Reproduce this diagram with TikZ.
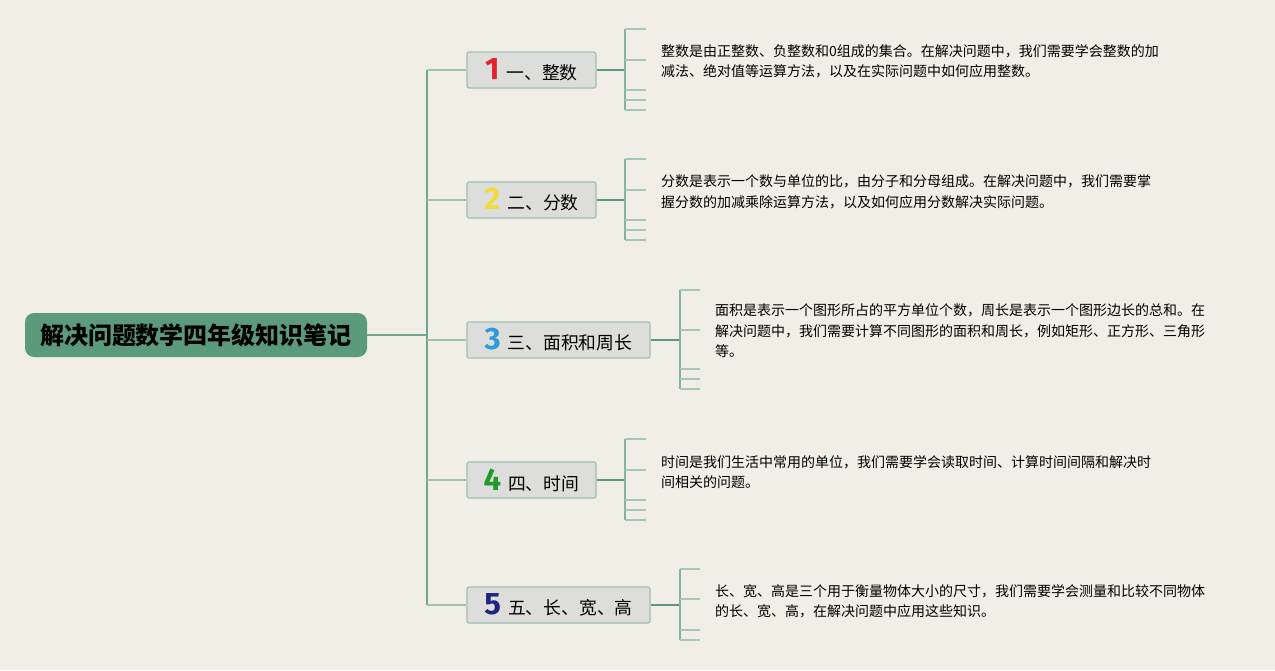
\documentclass[tikz,border=0pt]{standalone}
\usepackage{fontspec}
\setmainfont{Noto Sans CJK SC}
\newfontfamily\numfont{Fira Sans}
\usetikzlibrary{positioning}

\definecolor{bgcol}{HTML}{F1EEE5}
\definecolor{rootcol}{HTML}{5B9B7B}
\definecolor{trunkcol}{HTML}{6FA58B}
\definecolor{twigcol}{HTML}{9DC3AF}
\definecolor{stemcol}{HTML}{5E977F}
\definecolor{brkcol}{HTML}{86B29D}
\definecolor{tickcol}{HTML}{A6C7B6}
\definecolor{boxfill}{HTML}{DDDEDB}
\definecolor{boxline}{HTML}{9FC1B0}
\definecolor{numA}{HTML}{E3212F}
\definecolor{numB}{HTML}{F4DB3C}
\definecolor{numC}{HTML}{2F9BDB}
\definecolor{numD}{HTML}{1F9B2B}
\definecolor{numE}{HTML}{1C2880}

\newcommand{\knum}[2]{{\numfont\bfseries\fontsize{31}{31}\selectfont\color{#1}#2}\hspace{7pt}}

\tikzset{
  rootbox/.style={fill=rootcol, rounded corners=9pt, minimum width=342pt, minimum height=44pt,
    inner sep=0pt, font=\bfseries\fontsize{24}{24}\selectfont},
  topic/.style={draw=boxline, line width=1.2pt, fill=boxfill, rounded corners=2pt,
    minimum height=36pt, inner sep=0pt, font=\fontsize{17.8}{17.8}\selectfont},
  note/.style={anchor=west, align=left, inner sep=0pt, font=\fontsize{14}{20.5}\selectfont},
  twig/.style={draw=twigcol, line width=1.2pt},
  stem/.style={draw=stemcol, line width=2pt},
  brk/.style={draw=brkcol, line width=1.4pt},
  tick/.style={draw=tickcol, line width=1.2pt}
}

\begin{document}
\begin{tikzpicture}[x=1pt,y=-1pt]
\fill[bgcol] (0,0) rectangle (1275,670);
\useasboundingbox (0,0) rectangle (1275,670);

% root and topics
\node (root) [rootbox] at (196,335) {解决问题数学四年级知识笔记};
\node (k1) [topic, minimum width=129pt] at (531.5,70) {\knum{numA}{1}一、整数};
\node (k2) [topic, minimum width=129pt] at (531.5,200) {\knum{numB}{2}二、分数};
\node (k3) [topic, minimum width=183pt] at (558.5,340) {\knum{numC}{3}三、面积和周长};
\node (k4) [topic, minimum width=129pt] at (531.5,480) {\knum{numD}{4}四、时间};
\node (k5) [topic, minimum width=183pt] at (558.5,605) {\knum{numE}{5}五、长、宽、高};

% notes
\node (d1) [note] at (661,61.5) {整数是由正整数、负整数和0组成的集合。在解决问题中，我们需要学会整数的加\\减法、绝对值等运算方法，以及在实际问题中如何应用整数。};
\node (d2) [note] at (661,192) {分数是表示一个数与单位的比，由分子和分母组成。在解决问题中，我们需要掌\\握分数的加减乘除运算方法，以及如何应用分数解决实际问题。};
\node (d3) [note] at (715,331) {面积是表示一个图形所占的平方单位个数，周长是表示一个图形边长的总和。在\\解决问题中，我们需要计算不同图形的面积和周长，例如矩形、正方形、三角形\\等。};
\node (d4) [note] at (661,472) {时间是我们生活中常用的单位，我们需要学会读取时间、计算时间间隔和解决时\\间相关的问题。};
\node (d5) [note] at (715,601.5) {长、宽、高是三个用于衡量物体大小的尺寸，我们需要学会测量和比较不同物体\\的长、宽、高，在解决问题中应用这些知识。};

% trunk
\coordinate (tr) at (427,335);
\draw [stem, line width=1.6pt, draw=trunkcol] (root.east) -- (tr);
\draw [stem, line width=1.6pt, draw=trunkcol] (tr |- k1.west) -- (tr |- k5.west);
\foreach \k in {k1,k2,k3,k4,k5}
  \draw [twig] (tr |- \k.west) -- (\k.west);

% brackets
\coordinate (b1) at (625,70);
\coordinate (b2) at (625,200);
\coordinate (b3) at (680,340);
\coordinate (b4) at (625,480);
\coordinate (b5) at (680,605);
\draw [stem] (k1.east) -- (b1);
\draw [stem] (k2.east) -- (b2);
\draw [stem] (k3.east) -- (b3);
\draw [stem] (k4.east) -- (b4);
\draw [stem] (k5.east) -- (b5);
\foreach \b in {b1,b2,b4} {
  \draw [brk] ([yshift=41pt]\b) -- ([yshift=-40pt]\b);
  \foreach \t in {-41,-10,20,30,40}
    \draw [tick] ([yshift=-\t pt]\b) -- ++(21,0);
}
\draw [brk] ([yshift=50pt]b3) -- ([yshift=-49pt]b3);
\foreach \t in {-50,-10,29,39,49}
  \draw [tick] ([yshift=-\t pt]b3) -- ++(20,0);
\draw [brk] ([yshift=36pt]b5) -- ([yshift=-35pt]b5);
\foreach \t in {-36,-6,25,35}
  \draw [tick] ([yshift=-\t pt]b5) -- ++(20,0);
\end{tikzpicture}
\end{document}
